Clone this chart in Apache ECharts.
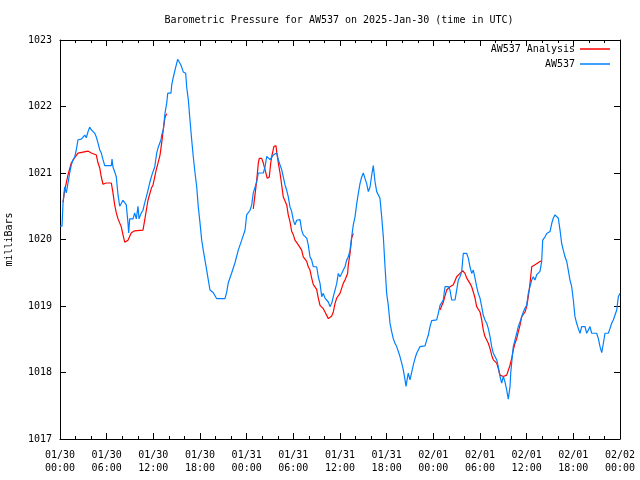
<!DOCTYPE html>
<html><head><meta charset="utf-8">
<script src="https://cdn.jsdelivr.net/npm/echarts@6/dist/echarts.min.js"></script>
<style>html,body{margin:0;padding:0;background:#fff}#c{width:640px;height:480px}</style>
</head><body><div id="c"></div>
<script>
const titleText = 'Barometric Pressure for AW537 on 2025-Jan-30 (time in UTC)';
const xTickLabels = ['01/30\n00:00','01/30\n06:00','01/30\n12:00','01/30\n18:00','01/31\n00:00','01/31\n06:00','01/31\n12:00','01/31\n18:00','02/01\n00:00','02/01\n06:00','02/01\n12:00','02/01\n18:00','02/02\n00:00'];
const yTicks = [1017, 1018, 1019, 1020, 1021, 1022, 1023];

// hours since 2025-01-30 00:00 UTC
const stationHours = [
0,0.26,0.39,0.6,0.81,1.03,1.25,1.45,1.67,1.89,
2.1,2.31,2.53,2.74,2.96,3.18,3.38,3.6,3.82,4.02,
4.24,4.45,4.67,4.89,5.1,5.31,5.53,5.75,6.6,6.69,
6.81,7.03,7.24,7.46,7.68,7.9,8.1,8.32,8.52,8.74,
8.83,8.96,9.39,9.6,9.81,10.03,10.16,10.45,10.67,10.89,
11.1,11.31,11.53,11.74,11.96,12.18,12.43,12.64,12.99,13.07,
13.28,13.5,13.72,13.85,14.27,14.36,14.57,14.79,15.0,15.13,
15.3,15.56,15.85,16.16,16.29,16.5,16.71,16.93,17.14,17.36,
17.58,17.78,18.0,18.22,18.42,18.64,18.86,19.07,19.29,19.71,
20.15,21.21,21.43,21.64,22.08,22.5,22.92,23.36,23.57,23.79,
24.0,24.43,24.65,24.85,25.07,25.29,25.5,26.14,26.36,26.58,
26.78,27.0,27.22,27.42,27.64,27.86,28.07,28.29,28.5,28.71,
28.93,29.15,29.35,29.57,29.79,30.0,30.21,30.43,30.86,31.07,
31.28,31.72,31.92,32.14,32.36,32.57,33.0,33.21,33.43,33.65,
33.85,34.07,34.5,34.71,34.93,35.14,35.36,35.58,35.78,36.0,
36.22,36.42,36.64,36.86,37.07,37.29,37.5,37.71,37.93,38.15,
38.35,38.57,38.79,39.0,39.21,39.43,39.64,39.86,40.08,40.28,
40.5,40.72,40.92,41.14,41.36,41.57,41.79,42.0,42.21,42.43,
42.65,42.85,43.07,43.29,43.5,43.71,43.93,44.14,44.36,44.49,
44.62,44.78,45.0,45.22,45.42,45.64,45.86,46.07,46.29,46.93,
47.15,47.35,47.57,47.79,48.43,48.64,48.86,49.08,49.28,49.5,
49.93,50.14,50.36,50.79,51.0,51.21,51.43,51.65,51.85,52.29,
52.5,52.71,52.93,53.14,53.36,53.57,53.78,54.0,54.22,54.42,
54.64,54.86,55.07,55.29,55.5,55.71,55.93,56.15,56.35,56.57,
56.79,57.0,57.21,57.43,57.64,57.86,57.95,58.07,58.28,58.5,
58.72,58.92,59.14,59.36,59.57,59.79,60.0,60.21,60.43,60.65,
60.85,61.07,61.29,61.5,61.71,61.93,62.06,62.36,62.58,63.0,
63.22,63.42,63.64,63.86,64.07,64.29,64.5,64.71,64.93,65.15,
65.35,65.57,65.79,66.0,66.21,66.43,66.64,66.86,67.07,67.5,
67.72,67.93,68.14,68.36,69.0,69.22,69.43,69.65,69.86,70.07,
70.5,70.71,70.93,71.14,71.36,71.58,71.79,72.0
];
const stationPressure = [
1020.20,1020.20,1020.55,1020.79,1020.70,1020.85,1021.00,1021.12,1021.20,1021.24,
1021.35,1021.50,1021.51,1021.51,1021.54,1021.57,1021.53,1021.62,1021.69,1021.65,
1021.62,1021.60,1021.54,1021.45,1021.35,1021.30,1021.20,1021.11,1021.11,1021.21,
1021.09,1021.02,1020.94,1020.67,1020.50,1020.50,1020.59,1020.61,1020.52,1020.25,
1020.10,1020.31,1020.31,1020.40,1020.31,1020.50,1020.31,1020.40,1020.44,1020.55,
1020.64,1020.74,1020.85,1020.94,1021.02,1021.09,1021.30,1021.39,1021.50,1021.57,
1021.65,1021.90,1022.05,1022.20,1022.20,1022.32,1022.44,1022.55,1022.65,1022.71,
1022.71,1022.62,1022.52,1022.50,1022.29,1022.10,1021.80,1021.50,1021.24,1021.00,
1020.79,1020.49,1020.25,1019.99,1019.84,1019.69,1019.54,1019.39,1019.24,1019.20,
1019.11,1019.11,1019.21,1019.35,1019.50,1019.65,1019.84,1019.99,1020.02,1020.14,
1020.37,1020.44,1020.52,1020.70,1020.70,1020.87,1021.00,1021.00,1021.09,1021.25,
1021.27,1021.20,1021.22,1021.27,1021.30,1021.30,1021.20,1021.12,1021.05,1020.94,
1020.82,1020.74,1020.64,1020.49,1020.42,1020.29,1020.22,1020.29,1020.30,1020.14,
1020.07,1020.02,1019.92,1019.74,1019.69,1019.59,1019.59,1019.44,1019.34,1019.14,
1019.19,1019.12,1019.06,1018.99,1019.04,1019.14,1019.24,1019.34,1019.49,1019.44,
1019.49,1019.54,1019.59,1019.69,1019.74,1019.84,1020.04,1020.22,1020.34,1020.54,
1020.69,1020.84,1020.94,1021.00,1020.92,1020.84,1020.72,1020.79,1020.97,1021.11,
1020.87,1020.72,1020.69,1020.62,1020.34,1020.04,1019.59,1019.19,1019.01,1018.74,
1018.61,1018.51,1018.44,1018.39,1018.36,1018.24,1018.14,1018.04,1017.89,1017.79,
1017.89,1017.99,1017.89,1017.89,1018.11,1018.21,1018.29,1018.31,1018.39,1018.40,
1018.49,1018.56,1018.69,1018.78,1018.79,1018.89,1019.01,1018.99,1019.09,1019.29,
1019.29,1019.24,1019.09,1019.09,1019.24,1019.39,1019.44,1019.52,1019.79,1019.79,
1019.72,1019.59,1019.49,1019.54,1019.42,1019.29,1019.19,1019.12,1018.99,1018.86,
1018.79,1018.74,1018.66,1018.54,1018.39,1018.29,1018.24,1018.19,1018.09,1017.94,
1017.84,1017.94,1017.86,1017.74,1017.60,1017.79,1017.99,1018.14,1018.39,1018.49,
1018.59,1018.69,1018.76,1018.79,1018.91,1018.97,1019.01,1019.19,1019.29,1019.39,
1019.44,1019.39,1019.47,1019.49,1019.52,1019.67,1019.99,1020.04,1020.09,1020.12,
1020.24,1020.32,1020.37,1020.39,1020.32,1020.14,1019.94,1019.84,1019.74,1019.67,
1019.54,1019.39,1019.29,1019.09,1018.84,1018.74,1018.66,1018.59,1018.69,1018.69,
1018.59,1018.64,1018.69,1018.59,1018.59,1018.51,1018.39,1018.30,1018.44,1018.59,
1018.59,1018.66,1018.74,1018.79,1018.81,1018.94,1019.14,1019.19
];

const analysisHoursA = [0.39,0.6,1.03,1.45,1.89,2.31,2.53,3.6,4.02,4.67,4.89,5.1,5.31,5.53,5.95,6.6,6.81,7.03,7.24,7.46,7.68,7.88,8.1,8.32,8.52,8.74,9.17,9.6,10.67,10.89,11.1,11.31,11.74,11.96,12.18,12.38,12.6,12.86,13.07,13.28,13.5,13.72];
const analysisPressureA = [1020.56,1020.74,1020.97,1021.15,1021.23,1021.30,1021.32,1021.33,1021.30,1021.27,1021.15,1021.08,1020.94,1020.83,1020.85,1020.85,1020.70,1020.52,1020.40,1020.31,1020.29,1020.19,1020.07,1019.96,1019.96,1019.99,1020.10,1020.13,1020.14,1020.29,1020.44,1020.59,1020.77,1020.82,1020.94,1021.05,1021.15,1021.27,1021.45,1021.65,1021.84,1021.89];
const analysisHoursB = [24.85,25.07,25.29,25.5,25.62,25.93,26.14,26.36,26.65,26.91,27.09,27.26,27.51,27.77,27.86,28.07,28.29,28.5,28.71,28.93,29.15,29.35,29.57,29.79,30.0,30.21,30.64,31.07,31.28,31.72,31.92,32.14,32.36,32.57,33.0,33.21,33.43,33.85,34.07,34.5,34.71,34.93,35.14,35.36,35.58,36.0,36.42,36.64,36.98,37.07,37.29,37.5,37.71];
const analysisPressureB = [1020.46,1020.67,1020.89,1021.15,1021.22,1021.22,1021.15,1021.05,1020.92,1020.94,1021.15,1021.27,1021.40,1021.41,1021.32,1021.15,1021.00,1020.82,1020.64,1020.62,1020.52,1020.37,1020.27,1020.12,1020.07,1019.99,1019.92,1019.84,1019.74,1019.67,1019.59,1019.54,1019.42,1019.32,1019.25,1019.12,1019.01,1018.96,1018.91,1018.81,1018.80,1018.85,1018.91,1019.04,1019.12,1019.19,1019.34,1019.39,1019.49,1019.62,1019.79,1020.02,1020.09];
const analysisHoursC = [48.86,49.28,49.71,50.14,50.57,50.79,51.0,51.43,51.78,52.07,52.29,52.71,52.93,53.14,53.36,53.57,53.78,54.0,54.22,54.42,54.64,54.86,55.07,55.29,55.5,55.71,55.93,56.15,56.35,56.57,56.79,57.0,57.43,57.64,57.86,58.07,58.28,58.5,58.72,58.92,59.14,59.36,59.79,60.0,60.21,60.43,60.65,61.07,61.29,61.71,61.93];
const analysisPressureC = [1018.94,1019.06,1019.24,1019.29,1019.32,1019.34,1019.44,1019.49,1019.53,1019.49,1019.42,1019.34,1019.29,1019.21,1019.12,1018.99,1018.97,1018.91,1018.79,1018.64,1018.54,1018.49,1018.44,1018.36,1018.26,1018.19,1018.16,1018.14,1018.06,1017.96,1017.94,1017.94,1017.96,1017.96,1018.11,1018.21,1018.34,1018.44,1018.51,1018.61,1018.71,1018.84,1018.91,1018.99,1019.14,1019.34,1019.59,1019.62,1019.64,1019.67,1019.68];

const pairs = (h, v) => h.map((x, i) => [x, v[i]]);
const gap = h => [[h, '-']];
const analysisData = [].concat(
  pairs(analysisHoursA, analysisPressureA), gap(19),
  pairs(analysisHoursB, analysisPressureB), gap(43),
  pairs(analysisHoursC, analysisPressureC));
const stationData = pairs(stationHours, stationPressure);

const font = 'DejaVu Sans Mono';
const black = '#000';
const xBase = {
  type: 'value', min: 0, max: 72, interval: 6,
  axisLine: {show: true, onZero: false, lineStyle: {color: black, width: 1}},
  axisTick: {show: true, inside: true, length: 6, lineStyle: {color: black}},
  minorTick: {show: true, splitNumber: 3, length: 3, lineStyle: {color: black}},
  splitLine: {show: false}, minorSplitLine: {show: false}
};
const yBase = {
  type: 'value', min: yTicks[0], max: yTicks[yTicks.length - 1], interval: 1,
  axisLine: {show: true, onZero: false, lineStyle: {color: black, width: 1}},
  axisTick: {show: true, inside: true, length: 6, lineStyle: {color: black}},
  splitLine: {show: false}
};
const legendText = {fontFamily: font, fontSize: 10, color: black};
const chart = echarts.init(document.getElementById('c'));
chart.setOption({
  backgroundColor: '#fff',
  animation: false,
  title: {text: titleText, left: 334, textAlign: 'center', top: 10,
    textStyle: {fontFamily: font, fontSize: 10, fontWeight: 'normal', color: black}},
  legend: [
    {data: ['AW537 Analysis'], right: 30, top: 44, padding: 0, align: 'right', icon: 'rect', itemWidth: 30, itemHeight: 1.5, itemGap: 0, textStyle: legendText},
    {data: ['AW537'], right: 30, top: 59, padding: 0, align: 'right', icon: 'rect', itemWidth: 30, itemHeight: 1.5, itemGap: 0, textStyle: legendText}
  ],
  grid: {left: 60, right: 20, top: 40, bottom: 41, containLabel: false, outerBoundsMode: 'none'},
  xAxis: [
    Object.assign({}, xBase, {position: 'bottom',
      axisLabel: {show: true, margin: 10, fontFamily: font, fontSize: 10, color: black, lineHeight: 13,
        showMinLabel: true, showMaxLabel: true, hideOverlap: false,
        formatter: v => xTickLabels[Math.round(v / 6)]}}),
    Object.assign({}, xBase, {position: 'top', axisLabel: {show: false}})
  ],
  yAxis: [
    Object.assign({}, yBase, {position: 'left', name: 'milliBars', nameLocation: 'middle', nameGap: 46, nameRotate: 90,
      nameTextStyle: {fontFamily: font, fontSize: 10, color: black},
      axisLabel: {show: true, margin: 8, fontFamily: font, fontSize: 10, color: black,
        formatter: v => String(v)}}),
    Object.assign({}, yBase, {position: 'right', axisLabel: {show: false}})
  ],
  series: [
    {name: 'AW537 Analysis', type: 'line', data: analysisData, showSymbol: false, symbol: 'none',
      connectNulls: false, color: '#ff0000', lineStyle: {color: '#ff0000', width: 1.2}, z: 2},
    {name: 'AW537', type: 'line', data: stationData, showSymbol: false, symbol: 'none',
      color: '#0080ff', lineStyle: {color: '#0080ff', width: 1.2}, z: 3}
  ]
});
</script>
</body></html>
